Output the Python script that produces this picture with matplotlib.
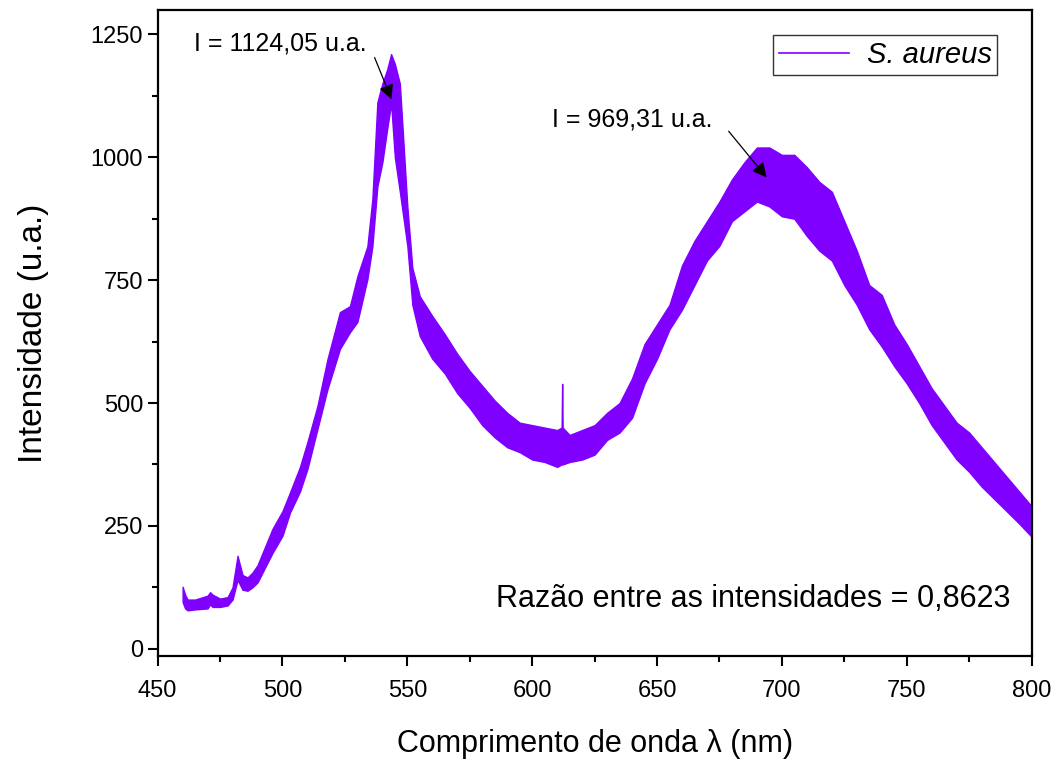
import numpy as np
import matplotlib.pyplot as plt
from matplotlib.ticker import MultipleLocator

plt.rcParams['font.family'] = ['Liberation Sans', 'DejaVu Sans']

# comprimento de onda (nm) e envelope do sinal (mínimo / máximo)
wavelength = [460, 461, 462, 465, 470, 471, 472, 475, 478, 480, 482, 484, 486, 488, 490,
              496, 500, 503, 507, 510, 514, 518, 523, 527, 530, 534, 536, 538, 540, 542,
              543.5, 545, 547, 550, 552, 555, 560, 565, 570, 575, 580, 585, 590, 595,
              600, 605, 610, 611.8, 612, 612.2, 615, 620, 625, 630, 635, 640, 645, 650,
              655, 660, 665, 670, 675, 680, 685, 690, 695, 700, 705, 710, 715, 720, 725,
              730, 735, 740, 745, 750, 755, 760, 765, 770, 775, 780, 785, 790, 795, 800]
lower = [95, 82, 78, 80, 82, 90, 85, 85, 88, 100, 140, 120, 118, 125, 135,
         195, 230, 277, 320, 366, 447, 528, 610, 644, 665, 752, 819, 941, 990, 1060,
         1110, 1000, 930, 820, 700, 636, 590, 560, 520, 490, 455, 430, 410, 400,
         385, 380, 370, 375, 380, 375, 380, 385, 395, 425, 440, 470, 540, 590,
         650, 690, 740, 790, 820, 870, 890, 910, 900, 880, 875, 840, 810, 790, 740,
         700, 650, 615, 575, 540, 500, 455, 420, 385, 360, 330, 305, 280, 255, 228]
upper = [126, 110, 100, 100, 108, 115, 110, 102, 105, 125, 189, 150, 145, 155, 170,
         244, 280, 318, 370, 421, 494, 589, 685, 697, 758, 819, 915, 1112, 1150, 1180,
         1210, 1190, 1150, 900, 775, 717, 677, 640, 600, 565, 535, 505, 480, 460,
         455, 450, 445, 450, 539, 450, 435, 445, 455, 480, 500, 550, 620, 660,
         700, 780, 830, 870, 910, 955, 990, 1020, 1020, 1005, 1005, 980, 950, 930, 870,
         810, 740, 720, 660, 620, 575, 530, 495, 460, 440, 410, 380, 350, 320, 290]

pico1, pico2 = 1124.05, 969.31
razao = 0.8623
cor = '#8000ff'

fig = plt.figure(figsize=(10.58, 7.62), dpi=100)
ax = fig.add_axes([0.149, 0.139, 0.826, 0.848])

ax.fill_between(wavelength, lower, upper, color=cor, lw=1.0)
ax.plot([], [], color=cor, lw=1.2, label='S. aureus')

ax.set_xlim(450, 800)
ax.set_ylim(-15, 1300)
ax.xaxis.set_major_locator(MultipleLocator(50))
ax.xaxis.set_minor_locator(MultipleLocator(25))
ax.yaxis.set_major_locator(MultipleLocator(250))
ax.yaxis.set_minor_locator(MultipleLocator(125))
ax.tick_params(which='major', direction='out', length=7, width=1.5, labelsize=17)
ax.tick_params(which='minor', direction='out', length=4, width=1.5)
ax.tick_params(axis='x', which='major', pad=10)
for s in ax.spines.values():
    s.set_linewidth(1.6)

ax.set_xlabel('Comprimento de onda λ (nm)', fontsize=22, labelpad=20)
ax.set_ylabel('Intensidade (u.a.)', fontsize=24, labelpad=30)

# anotações dos picos
seta = dict(arrowstyle='-|>', color='black', lw=0.9, mutation_scale=22,
            shrinkA=0, shrinkB=0)
ax.text(464.5, 1232, f'I = {pico1:.2f} u.a.'.replace('.', ',', 1), fontsize=18, va='center')
ax.annotate('', xy=(543.7, 1118), xytext=(536.9, 1203), arrowprops=seta)
ax.text(608, 1077, f'I = {pico2:.2f} u.a.'.replace('.', ',', 1), fontsize=18, va='center')
ax.annotate('', xy=(693.9, 959), xytext=(678.7, 1053), arrowprops=seta)
ax.text(585.5, 102, f'Razão entre as intensidades = {razao:.4f}'.replace('.', ','),
        fontsize=22, va='center')

leg = ax.legend(loc='upper right', bbox_to_anchor=(0.961, 0.961), borderaxespad=0,
                prop={'style': 'italic', 'size': 21}, fancybox=False, edgecolor='black',
                handlelength=2.4, borderpad=0.2, handletextpad=0.6)
leg.get_frame().set_linewidth(1.0)

fig.savefig('out.png', dpi=100)
